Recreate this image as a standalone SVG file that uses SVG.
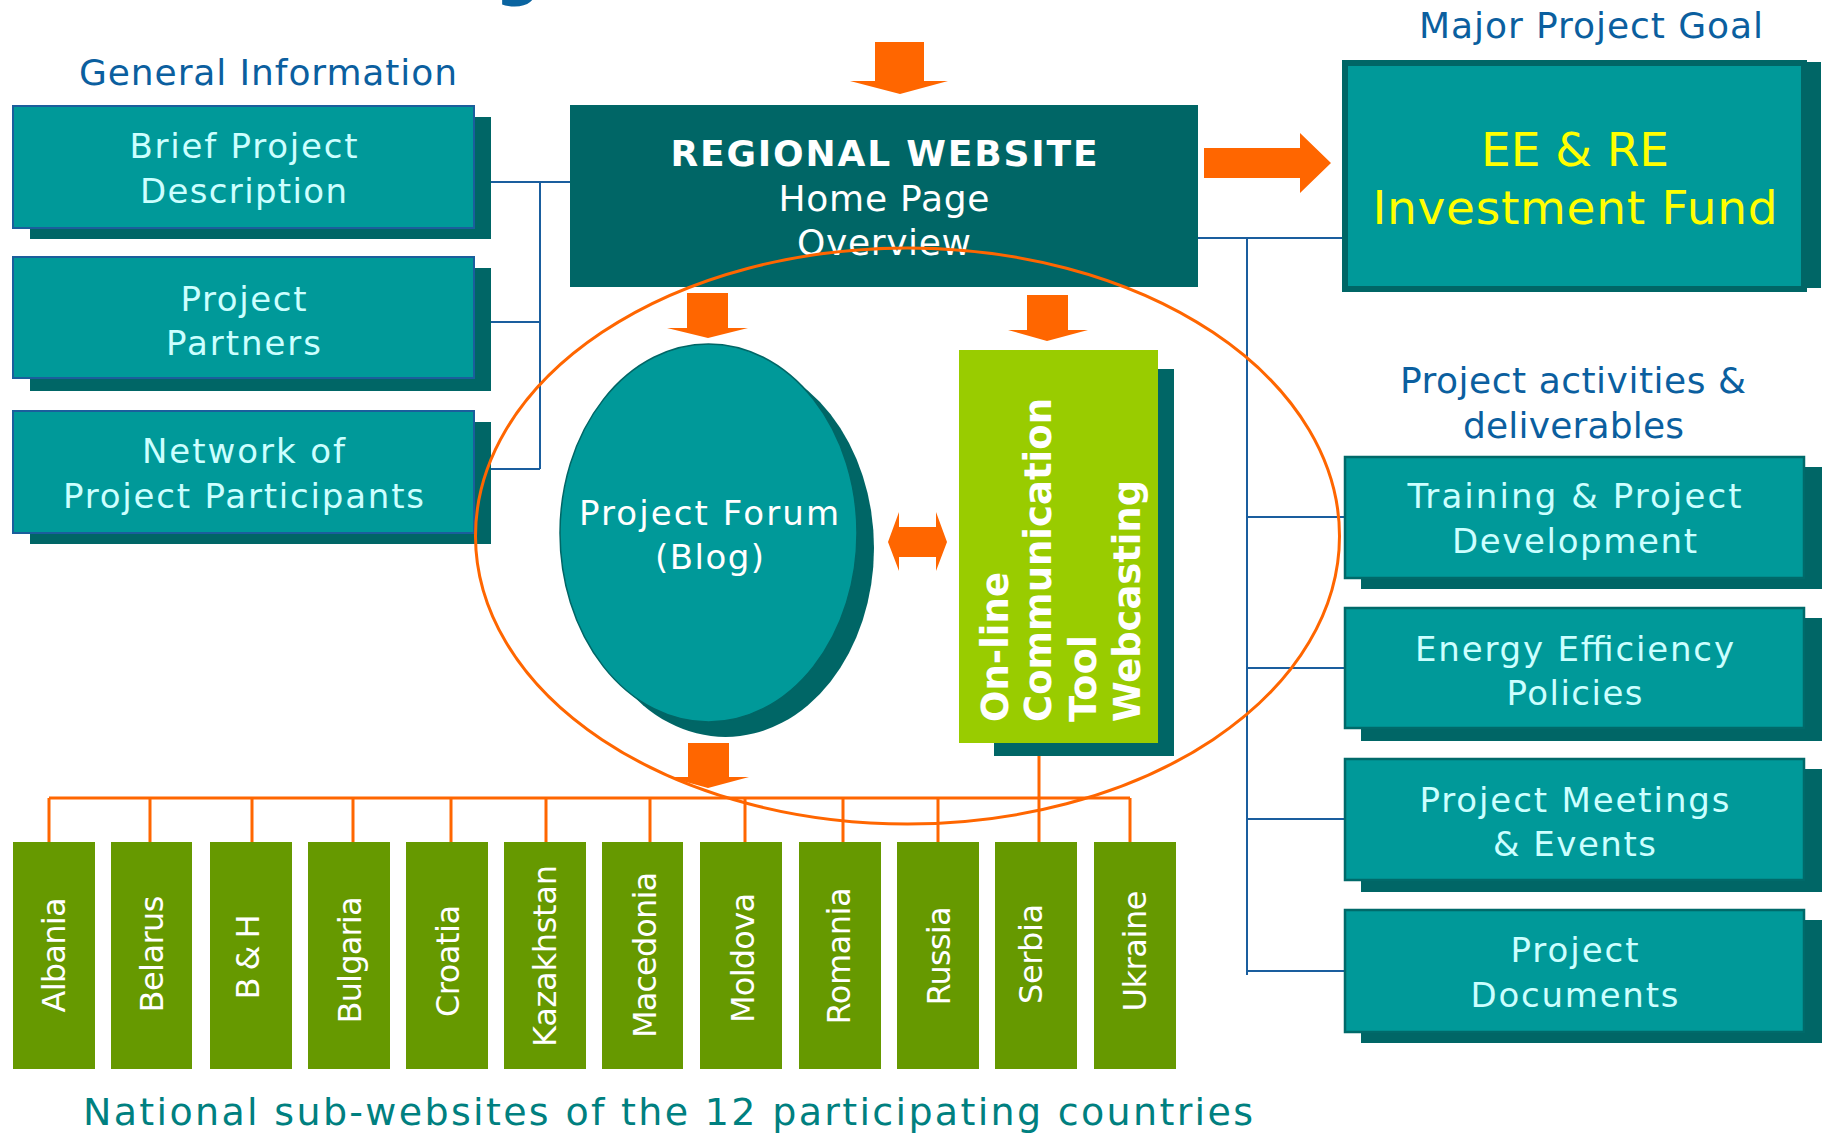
<svg xmlns="http://www.w3.org/2000/svg" width="1826" height="1139" viewBox="0 0 1826 1139">
<style>
text{font-family:"DejaVu Sans","Liberation Sans",sans-serif}
.hdr{font-size:36px;fill:#0b5f9f}
.bt{font-size:34px;fill:#ccffff;text-anchor:middle}
.boxl{fill:#009999;stroke:#1b5e9c;stroke-width:2}
.boxr{fill:#009999;stroke:#006a6a;stroke-width:2.5}
.sh{fill:#006666}
.arr{fill:#ff6600}
.blue{stroke:#1a5e9e;stroke-width:2;fill:none}
.org{stroke:#ff6600;stroke-width:3;fill:none}
.cty{fill:#669900}
.ct{font-size:32px;fill:#ffffff;text-anchor:middle}
.vt{font-size:37px;font-weight:bold;fill:#ffffff}
</style>

<text x="518" y="-7" font-size="64" font-weight="bold" fill="#0a64a0" text-anchor="middle">g</text>

<g id="connectors">
  <path class="blue" d="M474,182 H570 M474,322 H540 M474,469 H540 M540,182 V469"/>
  <path class="blue" d="M1198,238 H1342 M1247,238 V975 M1247,517 H1345 M1247,668 H1345 M1247,819 H1345 M1247,971 H1345"/>
  <path class="org" d="M49,798 H1130 M49,798 V842 M150,798 V842 M252,798 V842 M353,798 V842 M451,798 V842 M546,798 V842 M650,798 V842 M745,798 V842 M843,798 V842 M938,798 V842 M1039,756 V842 M1130,798 V842"/>
  <polygon class="arr" points="875,42 924,42 924,81 948,81 900,94 850,81 875,81"/>
  <polygon class="arr" points="1204,148 1300,148 1300,133 1331,163 1300,193 1300,178 1204,178"/>
  <polygon class="arr" points="687,293 728,293 728,328 748,328 708,338 667,328 687,328"/>
  <polygon class="arr" points="1027,295 1068,295 1068,330 1088,330 1047,341 1008,330 1027,330"/>
  <polygon class="arr" points="688,743 729,743 729,777 749,777 708,788 668,777 688,777"/>
  <polygon class="arr" points="888,542 899,512 899,527 936,527 936,512 947,542 936,571 936,557 899,557 899,571"/>
</g>

<g id="hdr-general"><text class="hdr" x="79" y="85" textLength="378">General Information</text></g>
<g id="hdr-goal"><text class="hdr" x="1419" y="38" textLength="344">Major Project Goal</text></g>
<g id="hdr-activities">
  <text class="hdr" x="1400" y="393" textLength="346">Project activities &amp;</text>
  <text class="hdr" x="1463" y="438" textLength="221">deliverables</text>
</g>

<g id="brief">
  <rect class="sh" x="30" y="117" width="461" height="122"/>
  <rect class="boxl" x="13" y="106" width="461" height="122"/>
  <text class="bt" x="243.5" y="158" textLength="228">Brief Project</text>
  <text class="bt" x="243.5" y="203" textLength="207">Description</text>
</g>
<g id="partners">
  <rect class="sh" x="30" y="268" width="461" height="123"/>
  <rect class="boxl" x="13" y="257" width="461" height="121"/>
  <text class="bt" x="243.5" y="311" textLength="126">Project</text>
  <text class="bt" x="243.5" y="355" textLength="155">Partners</text>
</g>
<g id="network">
  <rect class="sh" x="30" y="422" width="461" height="122"/>
  <rect class="boxl" x="13" y="411" width="461" height="122"/>
  <text class="bt" x="243.5" y="463" textLength="203">Network of</text>
  <text class="bt" x="243.5" y="508" textLength="361">Project Participants</text>
</g>

<g id="website">
  <rect x="570" y="105" width="628" height="182" fill="#006666"/>
  <text x="884" y="166" font-size="36" font-weight="bold" fill="#ffffff" text-anchor="middle" textLength="427">REGIONAL WEBSITE</text>
  <text x="884" y="211" font-size="36" fill="#ffffff" text-anchor="middle" textLength="211">Home Page</text>
  <text x="884" y="255" font-size="36" fill="#ffffff" text-anchor="middle" textLength="174">Overview</text>
</g>

<g id="fund">
  <rect class="sh" x="1357" y="62" width="464" height="226"/>
  <rect x="1345" y="63" width="459" height="226" fill="#009999" stroke="#006666" stroke-width="6"/>
  <text x="1575" y="166" font-size="47" fill="#ffff00" text-anchor="middle" textLength="188">EE &amp; RE</text>
  <text x="1575" y="224" font-size="47" fill="#ffff00" text-anchor="middle" textLength="405">Investment Fund</text>
</g>

<g id="training">
  <rect class="sh" x="1361" y="467" width="461" height="122"/>
  <rect class="boxr" x="1345" y="457" width="459" height="121"/>
  <text class="bt" x="1574.5" y="508" textLength="334">Training &amp; Project</text>
  <text class="bt" x="1574.5" y="553" textLength="245">Development</text>
</g>
<g id="energy">
  <rect class="sh" x="1361" y="618" width="461" height="123"/>
  <rect class="boxr" x="1345" y="608" width="459" height="120"/>
  <text class="bt" x="1574.5" y="661" textLength="319">Energy Efficiency</text>
  <text class="bt" x="1574.5" y="705" textLength="136">Policies</text>
</g>
<g id="meetings">
  <rect class="sh" x="1361" y="769" width="461" height="123"/>
  <rect class="boxr" x="1345" y="759" width="459" height="121"/>
  <text class="bt" x="1574.5" y="812" textLength="310">Project Meetings</text>
  <text class="bt" x="1574.5" y="856" textLength="163">&amp; Events</text>
</g>
<g id="documents">
  <rect class="sh" x="1361" y="920" width="461" height="123"/>
  <rect class="boxr" x="1345" y="910" width="459" height="122"/>
  <text class="bt" x="1574.5" y="962" textLength="128">Project</text>
  <text class="bt" x="1574.5" y="1007" textLength="208">Documents</text>
</g>

<g id="forum">
  <ellipse cx="725.5" cy="548" rx="148.5" ry="189" fill="#006666"/>
  <ellipse cx="708.5" cy="533" rx="148.5" ry="189" fill="#009999" stroke="#006666" stroke-width="1.5"/>
  <text x="709" y="525" font-size="34" fill="#ffffff" text-anchor="middle" textLength="260">Project Forum</text>
  <text x="709.5" y="569" font-size="34" fill="#ffffff" text-anchor="middle" textLength="109">(Blog)</text>
</g>

<g id="online-tool">
  <rect class="sh" x="994" y="369" width="180" height="387"/>
  <rect x="959" y="350" width="199" height="393" fill="#99cc00"/>
  <text class="vt" transform="translate(1008,722) rotate(-90)" textLength="150" lengthAdjust="spacingAndGlyphs">On-line</text>
  <text class="vt" transform="translate(1051,722) rotate(-90)" textLength="324" lengthAdjust="spacingAndGlyphs">Communication</text>
  <text class="vt" transform="translate(1096,722) rotate(-90)" textLength="87" lengthAdjust="spacingAndGlyphs">Tool</text>
  <text class="vt" transform="translate(1140,722) rotate(-90)" textLength="242" lengthAdjust="spacingAndGlyphs">Webcasting</text>
</g>

<g id="countries">
  <g id="c-albania"><rect class="cty" x="13" y="842" width="82" height="227"/><text class="ct" transform="translate(65,955) rotate(-90)" textLength="115">Albania</text></g>
  <g id="c-belarus"><rect class="cty" x="111" y="842" width="81" height="227"/><text class="ct" transform="translate(163,954) rotate(-90)" textLength="117">Belarus</text></g>
  <g id="c-bh"><rect class="cty" x="210" y="842" width="82" height="227"/><text class="ct" transform="translate(259,957) rotate(-90)" textLength="85">B &amp; H</text></g>
  <g id="c-bulgaria"><rect class="cty" x="308" y="842" width="82" height="227"/><text class="ct" transform="translate(361,960) rotate(-90)" textLength="127">Bulgaria</text></g>
  <g id="c-croatia"><rect class="cty" x="406" y="842" width="82" height="227"/><text class="ct" transform="translate(459,961) rotate(-90)" textLength="112">Croatia</text></g>
  <g id="c-kazakhstan"><rect class="cty" x="504" y="842" width="82" height="227"/><text class="ct" transform="translate(556,956) rotate(-90)" textLength="182">Kazakhstan</text></g>
  <g id="c-macedonia"><rect class="cty" x="602" y="842" width="81" height="227"/><text class="ct" transform="translate(656,955) rotate(-90)" textLength="166">Macedonia</text></g>
  <g id="c-moldova"><rect class="cty" x="700" y="842" width="82" height="227"/><text class="ct" transform="translate(754,958) rotate(-90)" textLength="130">Moldova</text></g>
  <g id="c-romania"><rect class="cty" x="799" y="842" width="82" height="227"/><text class="ct" transform="translate(850,956) rotate(-90)" textLength="137">Romania</text></g>
  <g id="c-russia"><rect class="cty" x="897" y="842" width="82" height="227"/><text class="ct" transform="translate(950,956) rotate(-90)" textLength="99">Russia</text></g>
  <g id="c-serbia"><rect class="cty" x="995" y="842" width="82" height="227"/><text class="ct" transform="translate(1042,954) rotate(-90)" textLength="100">Serbia</text></g>
  <g id="c-ukraine"><rect class="cty" x="1094" y="842" width="82" height="227"/><text class="ct" transform="translate(1146,951) rotate(-90)" textLength="121">Ukraine</text></g>
</g>

<g id="national-caption"><text x="83" y="1125" font-size="38" fill="#008080" textLength="1170">National sub-websites of the 12 participating countries</text></g>

<g id="group-outline"><ellipse class="org" cx="907.5" cy="536" rx="432" ry="288"/></g>
</svg>
